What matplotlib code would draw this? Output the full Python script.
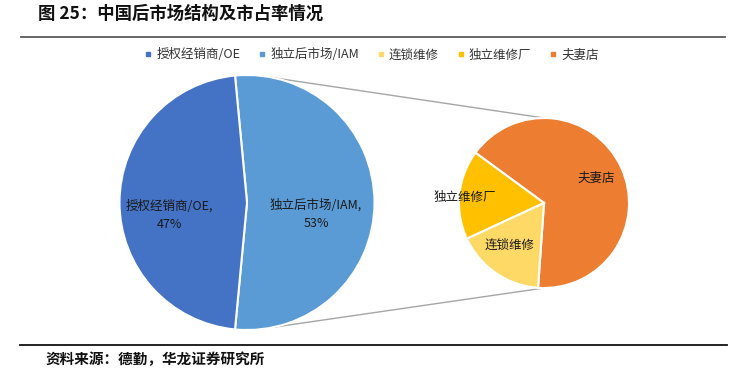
import matplotlib
matplotlib.use('Agg')
import matplotlib.pyplot as plt
from matplotlib.lines import Line2D
import numpy as np

plt.rcParams['font.family'] = ['Noto Sans CJK SC', 'DejaVu Sans']

title = '图 25：中国后市场结构及市占率情况'
source = '资料来源：德勤，华龙证券研究所'

main_labels = ['授权经销商/OE', '独立后市场/IAM']
main_values = [47, 53]
main_colors = ['#4472C4', '#5B9BD5']

sub_labels = ['夫妻店', '独立维修厂', '连锁维修']
sub_values = [35, 9, 9]
sub_colors = ['#ED7D31', '#FFC000', '#FFD966']

legend_order = ['授权经销商/OE', '独立后市场/IAM', '连锁维修', '独立维修厂', '夫妻店']

W, H = 739, 382
fig = plt.figure(figsize=(W / 100, H / 100), dpi=100)
ax = fig.add_axes([0, 0, 1, 1])
ax.set_xlim(0, W)
ax.set_ylim(0, H)
ax.axis('off')


def py(y):
    return H - y


# main pie: IAM centred to the right
main_c = (247, py(202.5))
main_r = 127.5
iam_share = main_values[1] / sum(main_values) * 360
ax.pie([main_values[1], main_values[0]], colors=[main_colors[1], main_colors[0]],
       center=main_c, radius=main_r, startangle=-iam_share / 2, counterclock=True,
       wedgeprops=dict(edgecolor='white', linewidth=1.5), frame=True)

# secondary pie
sub_c = (544, py(203))
sub_r = 85
ax.pie(sub_values, colors=sub_colors, center=sub_c, radius=sub_r,
       startangle=266, counterclock=True,
       wedgeprops=dict(edgecolor='white', linewidth=1.5), frame=True)
ax.set_xlim(0, W)
ax.set_ylim(0, H)
ax.set_aspect('auto')
ax.axis('off')

# connector lines
ang = np.deg2rad(78)
for s in (1, -1):
    x0 = main_c[0] + main_r * np.cos(ang)
    y0 = main_c[1] + s * main_r * np.sin(ang)
    ax.plot([x0, sub_c[0]], [y0, sub_c[1] + s * sub_r], color='#A6A6A6', lw=1.0, zorder=0)

# labels
lab_fs = 9
ax.text(169, py(215), f'{main_labels[0]},\n{main_values[0]}%', ha='center', va='center',
        fontsize=lab_fs, color='#1a1a1a', linespacing=1.5)
ax.text(316, py(214), f'{main_labels[1]},\n{main_values[1]}%', ha='center', va='center',
        fontsize=lab_fs, color='#1a1a1a', linespacing=1.5)
ax.text(596, py(178), sub_labels[0], ha='center', va='center', fontsize=lab_fs, color='#1a1a1a')
ax.text(465, py(197), sub_labels[1], ha='center', va='center', fontsize=lab_fs, color='#1a1a1a')
ax.text(510, py(245), sub_labels[2], ha='center', va='center', fontsize=lab_fs, color='#1a1a1a')

# legend
cmap = dict(zip(main_labels + sub_labels, main_colors + sub_colors))
handles = [Line2D([], [], marker='s', linestyle='none', markersize=3.5,
                  markerfacecolor=cmap[l], markeredgecolor=cmap[l]) for l in legend_order]
fig.legend(handles, legend_order, loc='center', bbox_to_anchor=(372 / W, 1 - 55 / H),
           ncol=5, frameon=False, fontsize=9, handlelength=0.5, handletextpad=0.4,
           columnspacing=1.5, labelcolor='#333333')

# title, rules, source
ax.text(38, py(14), title, ha='left', va='center', fontsize=12.5, fontweight='bold', color='#111111')
ax.plot([21, 725], [py(37), py(37)], color='#5a5a5a', lw=1.3)
ax.plot([20, 727], [py(345), py(345)], color='#111111', lw=1.3)
ax.text(45, py(359), source, ha='left', va='center', fontsize=10.5, fontweight='bold', color='#111111')

fig.savefig('out.png', dpi=100)
